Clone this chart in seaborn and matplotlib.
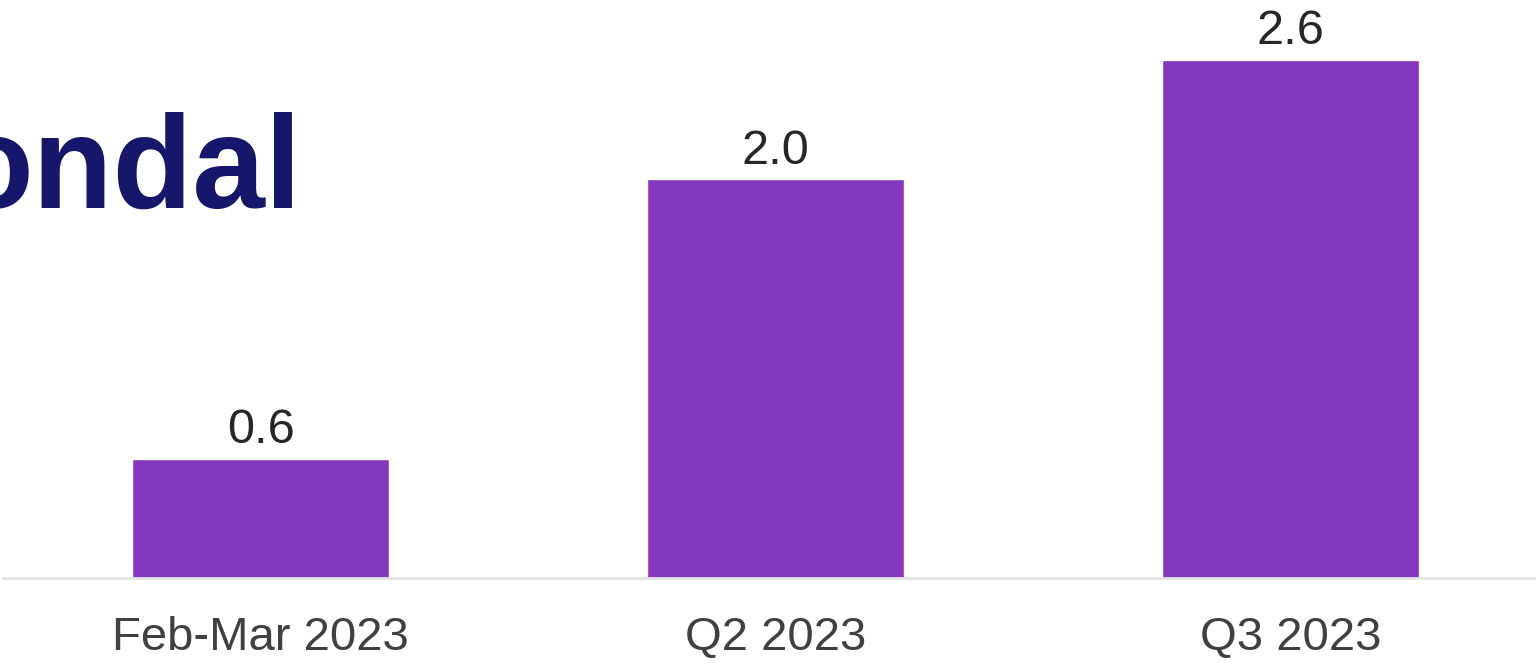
import matplotlib
matplotlib.use("Agg")
import matplotlib.pyplot as plt
import seaborn as sns
import pandas as pd

periods = ["Feb-Mar 2023", "Q2 2023", "Q3 2023"]
values = [0.6, 2.0, 2.6]
value_labels = ["0.6", "2.0", "2.6"]

sns.set_theme(style="white")
plt.rcParams["font.family"] = ["Liberation Sans", "DejaVu Sans"]

df = pd.DataFrame({"period": periods, "value": values})

fig = plt.figure(figsize=(15.36, 6.63), dpi=100)
ax = fig.add_axes([0.002, 0.128, 0.998, 0.872])

sns.barplot(data=df, x="period", y="value", color="#8437BF", saturation=1,
            width=0.5, ax=ax)

for patch, lab in zip(ax.patches, value_labels):
    ax.annotate(lab, (patch.get_x() + patch.get_width() / 2, patch.get_height()),
                xytext=(0, 4), textcoords="offset points", ha="center", va="bottom",
                fontsize=35, color="#262626")

ax.set_xlim(-0.5, 2.477)
ax.set_ylim(0, 2.90)
ax.set_xlabel("")
ax.set_ylabel("")
ax.set_yticks([])
ax.tick_params(axis="x", length=0, pad=27, labelsize=34, labelcolor="#404040")
for side in ["left", "right", "top"]:
    ax.spines[side].set_visible(False)
ax.spines["bottom"].set_color("#e3e3e3")
ax.spines["bottom"].set_linewidth(2)

# Brand wordmark in the upper left, partly running off the left edge
fig.text(302 / 1536, 1 - 208 / 663, "ondal", ha="right", va="baseline",
         fontsize=94, fontweight="bold", color="#16166B",
         family=["Liberation Sans", "DejaVu Sans"])

fig.savefig("out.png", dpi=100)
